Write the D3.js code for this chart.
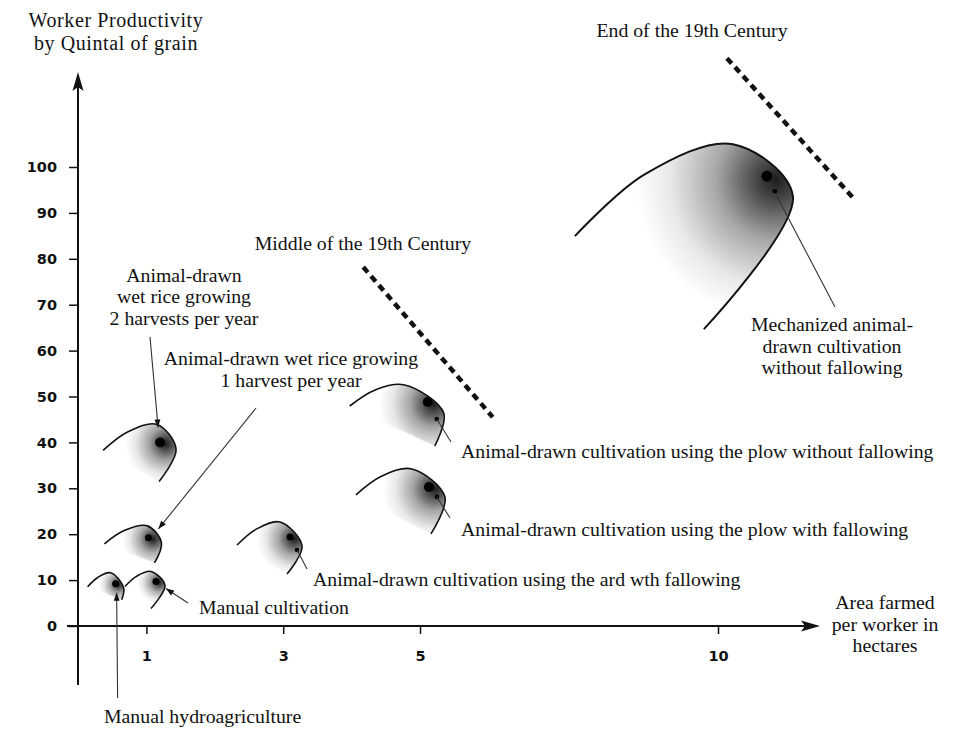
<!DOCTYPE html>
<html><head><meta charset="utf-8">
<script src="https://cdn.jsdelivr.net/npm/d3@7"></script>
<style>
html,body{margin:0;padding:0;background:#fff;}
svg{display:block;}
.lbl{font-family:"Liberation Serif","Times New Roman",serif;font-size:19.8px;fill:#111;}
.tick text{font-family:"DejaVu Sans",sans-serif;font-weight:bold;font-size:14.5px;fill:#111;}
</style></head>
<body>
<svg id="chart" width="957" height="734"></svg>
<script>
// ---------------- data ----------------
const categories = [
  "Manual hydroagriculture",
  "Manual cultivation",
  "Animal-drawn wet rice growing, 1 harvest per year",
  "Animal-drawn wet rice growing, 2 harvests per year",
  "Animal-drawn cultivation using the ard wth fallowing",
  "Animal-drawn cultivation using the plow with fallowing",
  "Animal-drawn cultivation using the plow without fallowing",
  "Mechanized animal-drawn cultivation without fallowing"
];
const areaPerWorker = [0.55, 1.14, 1.03, 1.2, 3.1, 5.15, 5.13, 10.82];   // hectares
const productivity  = [9.2, 9.7, 19.2, 40, 19.4, 30.3, 48.8, 98];         // quintals
const xTickValues = [1, 3, 5, 10];
const yTickValues = [0, 10, 20, 30, 40, 50, 60, 70, 80, 90, 100];
// era boundaries (area, productivity) endpoints
const eraNames = ["Middle of the 19th Century", "End of the 19th Century"];
const eraStartArea = [4.17, 10.15];
const eraStartProd = [78.2, 123.7];
const eraEndArea   = [6.22, 12.3];
const eraEndProd   = [45.5, 92.8];

// ---------------- glyph outlines (pixel offsets from the dot: left end, top, right, bottom end) ----
const outlines = [
  [[-28,3],[-5,-11],[8,4],[6,16]],
  [[-31,5],[-5,-10],[9,4],[-5,27]],
  [[-44,6],[-1,-12],[13,5],[6,25]],
  [[-57,8],[-3,-18],[16,7],[-1,39]],
  [[-53,8],[-10,-15],[12,9],[-3,37]],
  [[-73,8],[-17,-18],[16,10],[2,47]],
  [[-78,4],[-23,-17],[16,11],[7,44]],
  [[-192,60],[-34,-32],[26,20],[-63,153]]
];
const dotR = [3.5, 3.5, 3.5, 5, 3.5, 5, 5, 5.5];
const subDot = [null, null, null, null, [7,13], [8,10], [9,17], [8,15]];

const svg = d3.select("#chart");
const x = d3.scaleLinear().domain([0, 5, 10]).range([78, 420, 718]);
const y = d3.scaleLinear().domain([0, 100]).range([626, 167]);
const ink = "#111";

const defs = svg.append("defs");

// ---------------- axes ----------------
const yAxis = svg.append("g").attr("transform", `translate(${x(0)},0)`)
  .call(d3.axisLeft(y).tickValues(yTickValues).tickSize(9).tickPadding(12));
const xAxis = svg.append("g").attr("transform", `translate(0,${y(0)})`)
  .call(d3.axisBottom(x).tickValues(xTickValues).tickSize(8).tickPadding(17));
[xAxis, yAxis].forEach(g => {
  g.select(".domain").remove();
  g.selectAll(".tick line").attr("stroke", ink).attr("stroke-width", 1.5);
});
// axis lines
svg.append("line").attr("x1", x(0)).attr("x2", x(0)).attr("y1", 685).attr("y2", 84)
  .attr("stroke", ink).attr("stroke-width", 2);
svg.append("line").attr("x1", 67).attr("x2", 808).attr("y1", y(0)).attr("y2", y(0))
  .attr("stroke", ink).attr("stroke-width", 2);
// arrow heads
const X0 = x(0), Y0 = y(0);
svg.append("path").attr("fill", ink)
  .attr("d", `M${X0},72 L${X0+5.5},91 L${X0},87 L${X0-5.5},91 Z`);
svg.append("path").attr("fill", ink)
  .attr("d", `M820,${Y0} L801,${Y0-5.5} L805,${Y0} L801,${Y0+5.5} Z`);

// ---------------- era dashed lines ----------------
eraNames.forEach((n, i) => {
  svg.append("line")
    .attr("x1", x(eraStartArea[i])).attr("y1", y(eraStartProd[i]))
    .attr("x2", x(eraEndArea[i])).attr("y2", y(eraEndProd[i]))
    .attr("stroke", ink).attr("stroke-width", 4.5).attr("stroke-dasharray", "7,5");
});

// ---------------- comet glyphs ----------------
const curve = d3.line().curve(d3.curveCatmullRom.alpha(0.5));
const pts = categories.map((c, i) => [x(areaPerWorker[i]), y(productivity[i])]);

categories.forEach((c, i) => {
  const [cx, cy] = pts[i];
  const o = outlines[i];
  const abs = o.map(p => [cx + p[0], cy + p[1]]);
  // bulge the left arc: extra point between left end and top
  const [L, T] = [abs[0], abs[1]];
  const dx = T[0] - L[0], dy = T[1] - L[1], len = Math.hypot(dx, dy);
  const mid = [(L[0] + T[0]) / 2 + dy / len * 0.1 * len, (L[1] + T[1]) / 2 - dx / len * 0.1 * len];
  const path = [L, mid, T, abs[2], abs[3]];
  const reach = Math.hypot(o[0][0], o[0][1]);
  const gid = "g" + i;
  const gr = defs.append("radialGradient").attr("id", gid)
    .attr("gradientUnits", "userSpaceOnUse")
    .attr("cx", cx + o[2][0] * 0.35).attr("cy", cy + o[2][1] * 0.2)
    .attr("r", reach * 0.85);
  [[0, "#1c1c1c"], [0.12, "#4a4a4a"], [0.35, "#a6a6a6"], [0.62, "#e8e8e8"], [0.82, "#ffffff"], [1, "#ffffff"]]
    .forEach(s => gr.append("stop").attr("offset", s[0]).attr("stop-color", s[1]));
  svg.append("path").attr("d", curve(path) + "Z").attr("fill", `url(#${gid})`);
  svg.append("path").attr("d", curve(path)).attr("fill", "none")
    .attr("stroke", ink).attr("stroke-width", i === 7 ? 2 : 1.6);
  svg.append("circle").attr("cx", cx).attr("cy", cy).attr("r", dotR[i]).attr("fill", "#000");
  if (subDot[i]) svg.append("circle").attr("cx", cx + subDot[i][0]).attr("cy", cy + subDot[i][1])
    .attr("r", 2.3).attr("fill", "#000");
});

// ---------------- leaders ----------------
function leader(x1, y1, x2, y2, arrow) {
  svg.append("line").attr("x1", x1).attr("y1", y1).attr("x2", x2).attr("y2", y2)
    .attr("stroke", "#333").attr("stroke-width", 1.1);
  if (arrow) {
    const a = Math.atan2(y2 - y1, x2 - x1), L = 8, W = 3;
    const bx = x2 - L * Math.cos(a), by = y2 - L * Math.sin(a);
    svg.append("path").attr("fill", ink).attr("d",
      `M${x2},${y2} L${bx - W*Math.sin(a)},${by + W*Math.cos(a)} L${bx + W*Math.sin(a)},${by - W*Math.cos(a)} Z`);
  }
}
const P = pts;
leader(P[0][0] + 2, 698, P[0][0] + 1, P[0][1] + 9, true);
leader(188, 603, P[1][0] + 10, P[1][1] + 7, true);
leader(256, 408, P[2][0] + 10, P[2][1] - 9, true);
leader(150, 337, P[3][0] - 2, P[3][1] - 15, true);
leader(P[4][0] + 7, P[4][1] + 13, 307, 569, false);
leader(P[5][0] + 8, P[5][1] + 10, 450, 518, false);
leader(P[6][0] + 9, P[6][1] + 17, 451, 442, false);
leader(P[7][0] + 10, P[7][1] + 20, 835, 307, false);

// ---------------- text ----------------
function label(lines, xPos, yPos, anchor, lh, size, spacing) {
  const t = svg.append("text").attr("class", "lbl").attr("text-anchor", anchor || "start");
  if (size) t.style("font-size", size + "px");
  if (spacing) t.style("letter-spacing", spacing + "px");
  lines.forEach((s, k) => t.append("tspan").attr("x", xPos).attr("y", yPos + k * (lh || 21.5)).text(s));
}
label(["Worker Productivity", "by Quintal of grain"], 116, 27, "middle", 23, 20, 0.6);
label(["Area farmed", "per worker in", "hectares"], 885, 609, "middle", 21.5);
label([eraNames[0]], 363, 250, "middle");
label([eraNames[1]], 692, 37, "middle");
label(["Animal-drawn", "wet rice growing", "2 harvests per year"], 184, 282, "middle", 21.3);
label(["Animal-drawn wet rice growing", "1 harvest per year"], 291, 365, "middle", 22);
label(["Animal-drawn cultivation using the plow without fallowing"], 461, 458, "start");
label(["Animal-drawn cultivation using the plow with fallowing"], 461, 536, "start");
label(["Animal-drawn cultivation using the ard wth fallowing"], 313, 586, "start");
label(["Manual cultivation"], 199, 614, "start");
label(["Manual hydroagriculture"], 104, 723, "start");
label(["Mechanized animal-", "drawn cultivation", "without fallowing"], 832, 331, "middle", 21.5);
</script>
</body></html>
